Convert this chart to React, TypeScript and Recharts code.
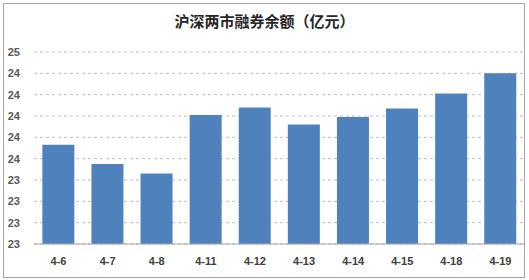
import React from "react";
import { BarChart, Bar, XAxis, YAxis, CartesianGrid } from "recharts";

const categories = ["4-6", "4-7", "4-8", "4-11", "4-12", "4-13", "4-14", "4-15", "4-18", "4-19"];
const balances = [23.73, 23.55, 23.46, 24.01, 24.08, 23.92, 23.99, 24.07, 24.21, 24.40];
const yTicks = [22.8, 23.0, 23.2, 23.4, 23.6, 23.8, 24.0, 24.2, 24.4, 24.6];
const boundaryTicks = [0, 1, 2, 3, 4, 5, 6, 7, 8, 9, 10];
const title = "沪深两市融券余额（亿元）";

const data = categories.map((c, i) => ({ name: c, value: balances[i], pos: i + 0.5 }));

const labelFont = "'Liberation Sans', Arial, sans-serif";

export default function App() {
  return (
    <div style={{ position: "absolute", left: 0, top: 0, width: 529, height: 280, background: "#fff" }}>
      <div
        style={{
          position: "absolute",
          left: 3,
          top: 3,
          width: 520,
          height: 273,
          border: "1px solid #a6a6a6",
        }}
      />
      <div
        style={{
          position: "absolute",
          left: 0,
          top: 11,
          width: 529,
          textAlign: "center",
          fontFamily: "'Noto Sans CJK SC', sans-serif",
          fontWeight: "bold",
          fontSize: 15,
          lineHeight: "20px",
          color: "#262626",
        }}
      >
        {title}
      </div>
      <div style={{ position: "absolute", left: 0, top: 0 }}>
        <BarChart
          width={529}
          height={280}
          data={data}
          margin={{ top: 52, right: 4, bottom: 6, left: 0 }}
          barCategoryGap="17%"
        >
          <CartesianGrid vertical={false} stroke="#bfbfbf" strokeDasharray="3 3" />
          <XAxis
            xAxisId="bounds"
            dataKey="pos"
            type="number"
            domain={[0, 10]}
            ticks={boundaryTicks}
            interval={0}
            axisLine={false}
            tick={() => <g />}
            tickLine={{ stroke: "#a6a6a6" }}
            tickSize={4}
            height={0}
            allowDataOverflow
          />
          <XAxis
            dataKey="name"
            height={30}
            axisLine={{ stroke: "#a6a6a6" }}
            tickLine={false}
            tickSize={0}
            tickMargin={13}
            interval={0}
            tick={{ fontSize: 11, fontWeight: "bold", fill: "#404040", fontFamily: labelFont }}
          />
          <YAxis
            domain={[22.8, 24.6]}
            ticks={yTicks}
            width={34}
            axisLine={false}
            tickLine={false}
            tickSize={0}
            tickMargin={14}
            interval={0}
            tickFormatter={(v: number) => String(Math.round(v))}
            tick={{ fontSize: 11, fontWeight: "bold", fill: "#595959", fontFamily: labelFont }}
            allowDataOverflow
          />
          <Bar dataKey="value" fill="#4f81bd" isAnimationActive={false} />
        </BarChart>
      </div>
    </div>
  );
}
